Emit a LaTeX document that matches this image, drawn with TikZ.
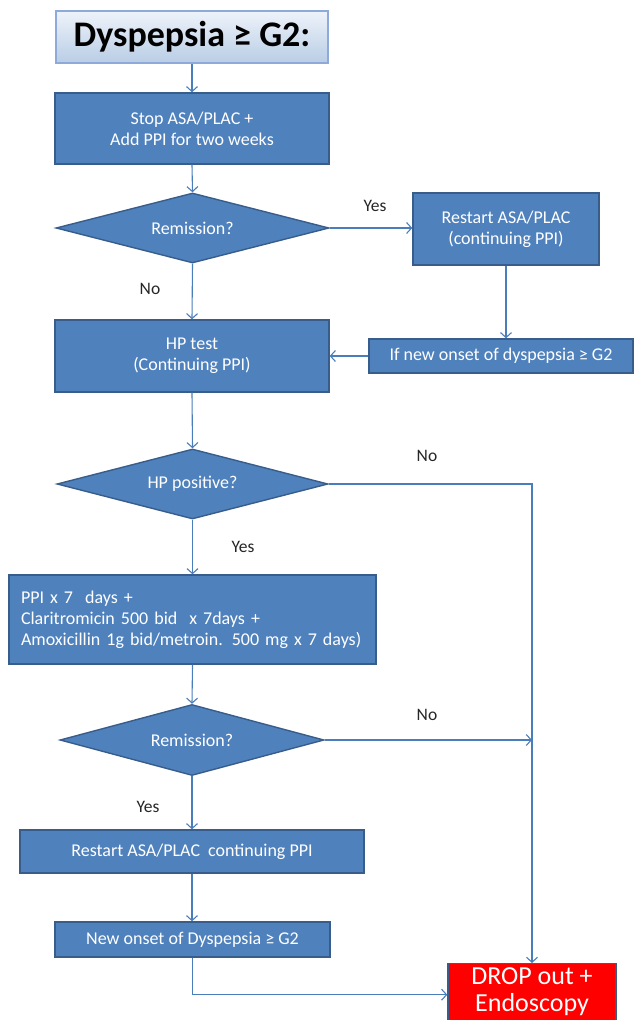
\documentclass[tikz,border=0pt]{standalone}
\usepackage{fontspec}
\setmainfont{Carlito}
\usetikzlibrary{shapes.geometric,arrows.meta,calc}
\definecolor{boxblue}{HTML}{4F81BD}
\definecolor{boxedge}{HTML}{385D8A}
\definecolor{lineblue}{HTML}{4A7EBB}
\definecolor{titletop}{HTML}{EEF3FA}
\definecolor{titlebot}{HTML}{B9CDE5}
\definecolor{titleedge}{HTML}{8EAADB}
\definecolor{dropred}{HTML}{FF0000}
\tikzset{
  x=1pt, y=-1pt,
  flowbox/.style={rectangle, fill=boxblue, draw=boxedge, line width=1.4pt, text=white,
    inner sep=0pt, align=center, font=\fontsize{18}{21}\selectfont},
  flowdia/.style={diamond, aspect=3.9, fill=boxblue, draw=boxedge, line width=1.4pt, text=white,
    inner sep=0pt, align=center, font=\fontsize{18}{21}\selectfont},
  conn/.style={draw=lineblue, line width=1.1pt, -{Straight Barb[length=5pt,width=11pt]}},
  lbl/.style={text=black!85, font=\fontsize{17.5}{20}\selectfont, inner sep=0pt},
  droptxt/.style={text=white, font=\fontsize{26}{28}\selectfont, inner sep=0pt, anchor=base},
}
\begin{document}
\begin{tikzpicture}
\clip (0,0) rectangle (634,1020);
\useasboundingbox (0,0) rectangle (634,1020);
\fill[white] (0,0) rectangle (634,1020);

% nodes
\node[rectangle, top color=titletop, bottom color=titlebot, draw=titleedge, line width=1.4pt,
  minimum width=272pt, minimum height=52pt, inner sep=0pt,
  font=\bfseries\fontsize{36}{40}\selectfont] (title) at (192,37) {Dyspepsia ≥ G2:};
\node[flowbox, minimum width=274pt, minimum height=71pt] (stop) at (192,128.5)
  {Stop ASA/PLAC +\\Add PPI for two weeks};
\node[flowdia, minimum width=273pt, minimum height=70pt] (rem1) at (192.5,228) {Remission?};
\node[flowbox, minimum width=186pt, minimum height=72pt] (restart1) at (506,229)
  {Restart ASA/PLAC\\(continuing PPI)};
\node[flowbox, minimum width=264pt, minimum height=34pt] (ifnew) at (501,356)
  {If new onset of dyspepsia ≥ G2};
\node[flowbox, minimum width=274pt, minimum height=72pt] (hptest) at (192,356)
  {HP test\\(Continuing PPI)};
\node[flowdia, minimum width=271pt, minimum height=70pt] (hppos) at (192.5,484) {HP positive?};
\node[flowbox, minimum height=89pt, text width=343pt, inner xsep=12pt, align=left] (treat) at (192.5,619.5)
  {PPI x 7\ \ days +\\Claritromicin 500 bid\ \ x 7days +\\Amoxicillin 1g bid/metroin. 500 mg x 7 days)};
\node[flowdia, minimum width=264pt, minimum height=71pt] (rem2) at (192,740) {Remission?};
\node[flowbox, minimum width=344pt, minimum height=43pt] (restart2) at (192,851.5)
  {Restart ASA/PLAC\ \ continuing PPI};
\node[flowbox, minimum width=275pt, minimum height=35pt] (newonset) at (192.5,939.5)
  {New onset of Dyspepsia ≥ G2};
\node[flowbox, fill=dropred, minimum width=168pt, minimum height=78pt, anchor=north] (drop) at (532,963) {};
\node[droptxt] (drop1) at (532,984) {DROP out +};
\node[droptxt] (drop2) at (532,1011) {Endoscopy};

% labels
\node[lbl] (yes1) at (375,206) {Yes};
\node[lbl] (no1) at (150,289) {No};
\node[lbl] (no2) at (427,456) {No};
\node[lbl] (yes2) at (243,547) {Yes};
\node[lbl] (no3) at (427,715) {No};
\node[lbl] (yes3) at (148,807) {Yes};

% connectors
\draw[conn] (title.south) -- (stop.north);
\draw[conn] (stop.south) -- (rem1.north);
\draw[conn] (rem1.east) -- (rem1.east -| restart1.west);
\draw[conn] (rem1.south) -- (hptest.north);
\draw[conn] (restart1.south) -- (restart1.south |- ifnew.north);
\draw[conn] (ifnew.west) -- (ifnew.west -| hptest.east);
\draw[conn] (hptest.south) -- (hppos.north);
\draw[conn] (hppos.east) -| (drop.north);
\draw[conn] (hppos.south) -- (treat.north);
\draw[conn] (treat.south) -- (rem2.north);
\coordinate (join) at (drop.north |- rem2.east);
\draw[conn] (rem2.east) -- (join);
\draw[conn] (rem2.south) -- (restart2.north);
\draw[conn] (restart2.south) -- (restart2.south |- newonset.north);
\coordinate (dropin) at ($(drop.west)+(0,-8)$);
\draw[conn] (newonset.south) |- (dropin);
\end{tikzpicture}
\end{document}
